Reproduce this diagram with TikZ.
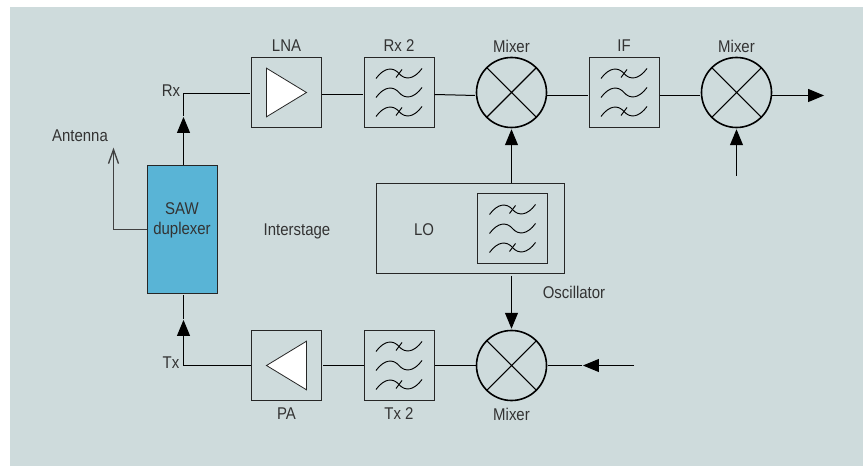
\documentclass[tikz,border=0pt]{standalone}
\usepackage{fontspec}
\setmainfont[FakeStretch=0.88]{Liberation Sans}
\usepackage{tikz}
\usetikzlibrary{arrows.meta}
\definecolor{panelbg}{HTML}{CEDBDC}
\definecolor{sawblue}{HTML}{59B4D6}
\definecolor{labelgray}{HTML}{333333}
\newcommand{\filterwaves}[1]{%
	\begin{scope}[shift={(#1.center)}]
		\foreach \wy in {-19,0,19}
			\draw[wave] (-23,\wy+5) .. controls (-15,\wy-6) and (-6,\wy-7) .. (0,\wy) .. controls (6,\wy+7) and (15,\wy+6) .. (23,\wy-5);
		\foreach \wy in {-19,19}
			\draw[wave] (-3,\wy+4) -- (3,\wy-4);
	\end{scope}}
\begin{document}
\begin{tikzpicture}[x=0.75pt,y=-0.75pt,>={Triangle[length=12pt,width=9.75pt]},shorten >=0.7pt,
			node distance=84.375pt,line width=0.75pt,
			box node/.style={rectangle,draw=black!85,minimum size=52.5pt,inner sep=0pt},
			mix node/.style={circle,draw=black,line width=1.2pt,minimum size=52.5pt,inner sep=0pt,
				path picture={\draw[line width=0.8pt] (path picture bounding box.south west) -- (path picture bounding box.north east)
					(path picture bounding box.north west) -- (path picture bounding box.south east);}},
			lbl/.style={font=\fontsize{12.75pt}{15pt}\selectfont,text=labelgray,inner sep=0pt,align=center},
			wave/.style={line width=0.7pt,shorten >=0pt},
			amp/.style={draw=black!85,fill=white,line width=0.6pt}]
			\useasboundingbox (0,0) rectangle (863,466);
			\fill[panelbg] (10,7) rectangle (863,466);
			
			\node[box node] (lna) at (286.5,92.5) {};
			\node[box node] (rxf) [right of =lna] {};
			\node[mix node] (mixa) [right of =rxf] {};
			\node[box node] (iff) [right of =mixa] {};
			\node[mix node] (mixb) [right of =iff] {};
			
			\node[box node] (pa) [below of =lna, node distance=204.75pt] {};
			\node[box node] (txf) [right of =pa] {};
			\node[mix node] (mixc) [right of =txf] {};
			
			\node[box node, fill=sawblue, minimum height=96pt] (saw) at (182,229.5) {};
			\node[rectangle, draw=black!85, minimum width=141pt, minimum height=67.5pt, inner sep=0pt] (lo) at (470,228.5) {};
			\node[box node] (lof) at (512.5,228.5) {};
			
			% labels
			\node[lbl] (lnatxt) [above of =lna, node distance=34.9pt] {LNA};
			\node[lbl] (rxtxt) [above of =rxf, node distance=34.9pt] {Rx 2};
			\node[lbl] (mixatxt) [above of =mixa, node distance=34.9pt] {Mixer};
			\node[lbl] (iftxt) [above of =iff, node distance=34.9pt] {IF};
			\node[lbl] (mixbtxt) [above of =mixb, node distance=34.9pt] {Mixer};
			\node[lbl] (patxt) [below of =pa, node distance=36.4pt] {PA};
			\node[lbl] (txtxt) [below of =txf, node distance=36.4pt] {Tx 2};
			\node[lbl] (mixctxt) [below of =mixc, node distance=36.4pt] {Mixer};
			\node[lbl] (sawtxt) at (182,220) {SAW\\duplexer};
			\node[lbl] (rxport) at (171,91) {Rx};
			\node[lbl] (txport) at (171,363) {Tx};
			\node[lbl] (anttxt) at (80,136) {Antenna};
			\node[lbl] (inttxt) at (297,231) {Interstage};
			\node[lbl] (lotxt) at (424,230) {LO};
			\node[lbl] (osctxt) at (574,292) {Oscillator};
			
			% filters and amplifiers
			\filterwaves{rxf}
			\filterwaves{iff}
			\filterwaves{lof}
			\filterwaves{txf}
			\draw[amp] ([shift={(-20,-24.3)}]lna.center) -- ([shift={(20,0)}]lna.center) -- ([shift={(-20,24.3)}]lna.center) -- cycle;
			\draw[amp] ([shift={(20,-24.3)}]pa.center) -- ([shift={(-20,0)}]pa.center) -- ([shift={(20,24.3)}]pa.center) -- cycle;
			
			% free ends and corners
			\coordinate (rxtip) at (183.5,116);
			\coordinate (rxcorner) at (183.5,93.5);
			\coordinate (txtip) at (183.5,319);
			\coordinate (txcorner) at (183.5,365.5);
			\coordinate (anttop) at (113.5,146.7);
			\coordinate (rfout) at (825,95.5);
			\coordinate (mixbin) at (736.5,176);
			\coordinate (txin) at (634,365.5);
			\coordinate (txintip) at (582,365.5);
			
			\draw[->] (saw.north -| rxtip) -- (rxtip);
			\draw (rxtip) -- (rxcorner) -- (lna.west |- rxcorner);
			\draw ([yshift=-1.5pt]lna.east) -- ([yshift=-1.5pt]rxf.west);
			\draw ([yshift=-1.5pt]rxf.east) -- ([yshift=-2.25pt]mixa.west);
			\draw ([yshift=-2.25pt]mixa.east) -- ([yshift=-2.25pt]iff.west);
			\draw ([yshift=-2.25pt]iff.east) -- ([yshift=-2.25pt]mixb.west);
			\draw[->] ([yshift=-2.25pt]mixb.east) -- (rfout);
			\draw[->] (mixbin) -- (mixb.south);
			\draw[->] (lo.north -| mixa) -- (mixa.south);
			\draw[->] ([yshift=-1.5pt]lo.south -| mixc) -- (mixc.north);
			\draw[->] (txin) -- (txintip);
			\draw (txintip) -- (mixc.east);
			\draw (mixc.west) -- (txf.east);
			\draw (txf.west) -- (pa.east);
			\draw[->] (pa.west) -- (txcorner) -- (txtip);
			\draw (txtip) -- (saw.south -| txtip);
			\draw[-{Straight Barb[length=10.5pt,width=7.5pt]},draw=black!75,line width=1pt] (saw.west) -- (anttop |- saw.west) -- (anttop);
		\end{tikzpicture}
\end{document}
